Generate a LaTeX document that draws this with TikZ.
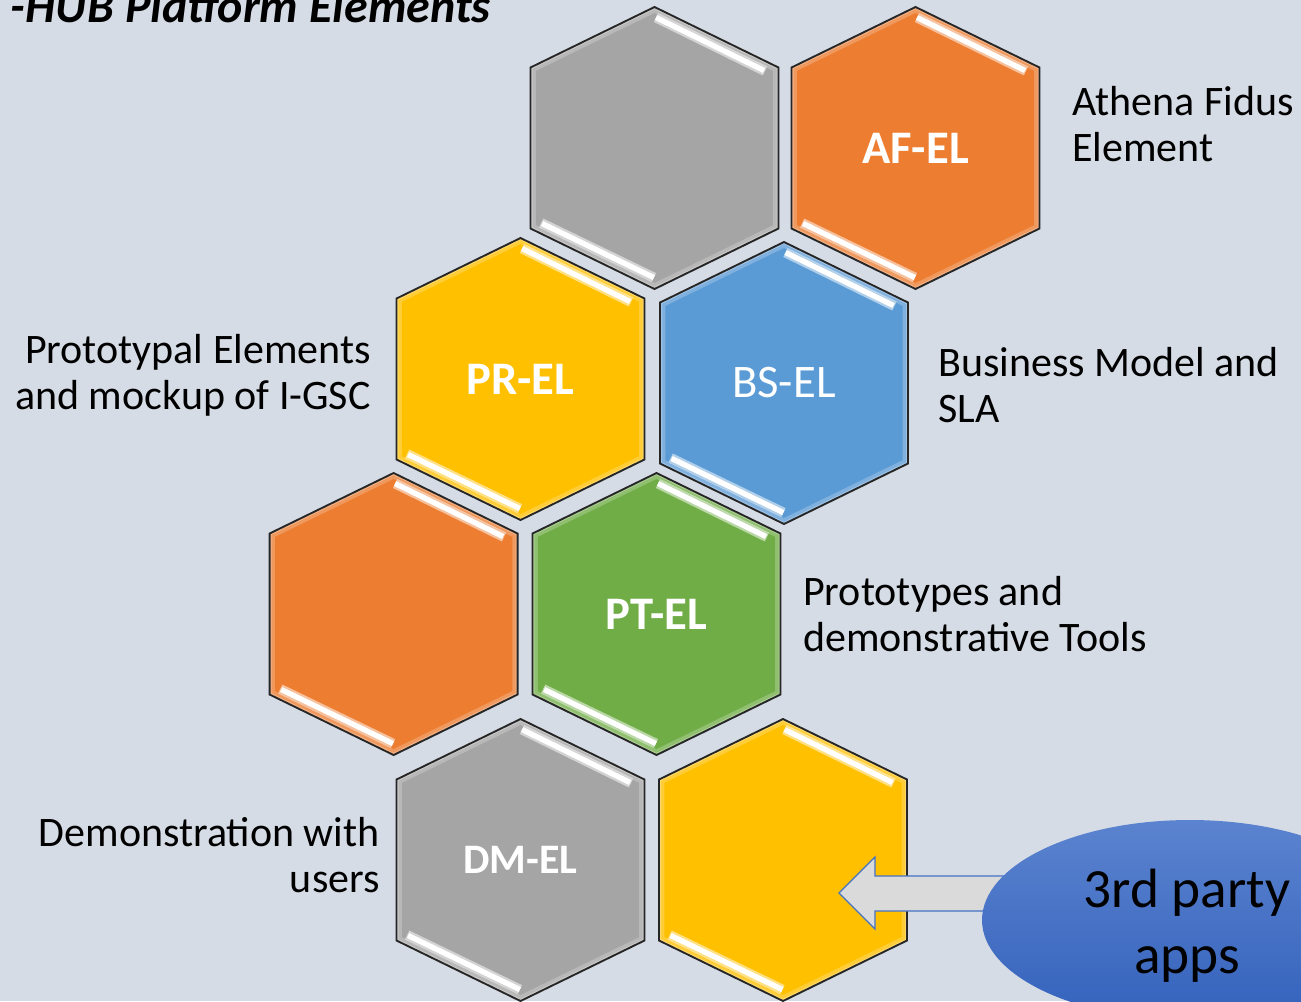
\documentclass[tikz,border=0pt]{standalone}
\usepackage{fontspec}
\setmainfont{Carlito}
\usetikzlibrary{shapes.geometric}
\definecolor{bg}{HTML}{D6DCE5}
\definecolor{hgray}{HTML}{A5A5A5}
\definecolor{horange}{HTML}{ED7D31}
\definecolor{hyellow}{HTML}{FFC000}
\definecolor{hblue}{HTML}{5B9BD5}
\definecolor{hgreen}{HTML}{70AD47}
\definecolor{arrowline}{HTML}{4472C4}
\definecolor{arrowfill}{HTML}{DADADA}
\definecolor{elltop}{HTML}{5B83CF}
\definecolor{ellbot}{HTML}{3462BC}
\newcommand\mytab[2]{\begin{tabular}[t]{@{}#1@{}}#2\end{tabular}}
\tikzset{
  hexshape/.style={insert path={(0,-141) -- (124,-80.5) -- (124,80.5) -- (0,141) -- (-124,80.5) -- (-124,-80.5) -- cycle}},
  hexlabel/.style={text=white, inner sep=0pt, font=\fontsize{35}{40}\selectfont\bfseries},
  sidelabel/.style={inner sep=0pt, text=black, font=\fontsize{31.5}{34.5}\selectfont},
}
% name, x, y, colour, text, text style
\newcommand\hexcell[6]{%
  \begin{scope}[shift={(#2,#3)}]
    \path[fill=#4, hexshape];
    \begin{scope}
      \clip[hexshape];
      \draw[line width=8pt, white, opacity=.22, hexshape];
      \draw[line width=3pt, white, opacity=.25, hexshape];
    \end{scope}
    % upper right highlight
    \draw[line width=7.5pt, #4!35!white, opacity=.8] (1.5,-130.5) -- (110.5,-77);
    \draw[line width=4pt, white] (1.5,-130.5) -- (109.5,-77.5);
    % lower left highlight
    \draw[line width=7.5pt, #4!35!white, opacity=.8] (-113.4,75) -- (-0.6,129.6);
    \draw[line width=4pt, white] (-112.4,75.5) -- (-0.6,129.6);
    \draw[line width=1.4pt, black!85, line join=miter, hexshape];
    \node[#6] (#1) at (0,0) {#5};
  \end{scope}}
\begin{document}
\begin{tikzpicture}[x=0.75pt, y=-0.75pt]
\useasboundingbox (0,0) rectangle (1301,1001);
\clip (0,0) rectangle (1301,1001);
\fill[bg] (0,0) rectangle (1301,1001);

\node[anchor=base east, inner sep=0pt, font=\fontsize{36}{40}\selectfont\bfseries\itshape] (title) at (491,22.5) {-HUB Platform Elements};

\hexcell{gtop}{654.5}{148}{hgray}{}{hexlabel}
\hexcell{af}{915.5}{148}{horange}{AF-EL}{hexlabel}
\hexcell{pr}{520.5}{379}{hyellow}{PR-EL}{hexlabel}
\hexcell{bs}{784}{383}{hblue}{BS-EL}{hexlabel, font=\fontsize{35}{40}\selectfont\mdseries}
\hexcell{orl}{393.6}{614}{horange}{}{hexlabel}
\hexcell{pt}{656.5}{614}{hgreen}{PT-EL}{hexlabel}
\hexcell{dm}{520.5}{860}{hgray}{DM-EL}{hexlabel, font=\fontsize{31.5}{36}\selectfont\bfseries}
\hexcell{ybr}{783}{860}{hyellow}{}{hexlabel}

\node[sidelabel, anchor=base west] (afl) at (1072,115) {\mytab{l}{Athena Fidus\\Element}};
\node[sidelabel, anchor=base east] (prl) at (371,363) {\mytab{r}{Prototypal Elements\\and mockup of I-GSC}};
\node[sidelabel, anchor=base west] (bsl) at (938,376.7) {\mytab{l}{Business Model and\\SLA}};
\node[sidelabel, anchor=base west] (ptl) at (803,605) {\mytab{l}{Prototypes and\\demonstrative Tools}};
\node[sidelabel, anchor=base east] (dml) at (380,846.7) {\mytab{r}{Demonstration with\\users}};

% block arrow from the ellipse into the yellow cell
\draw[fill=arrowfill, draw=arrowline, line width=0.9pt, line join=miter]
  (839,893) -- (875,857) -- (875,876) -- (1010,876) -- (1010,911) -- (875,911) -- (875,929) -- cycle;

\node[ellipse, minimum width=312pt, minimum height=150pt, inner sep=0pt,
      top color=elltop, bottom color=ellbot, draw=none] (ell) at (1190,920) {};
\node[anchor=base, inner sep=0pt, text=black, font=\fontsize{41.5}{49.5}\selectfont] (tp) at (1187,907) {\mytab{c}{3rd party\\apps}};
\end{tikzpicture}
\end{document}
